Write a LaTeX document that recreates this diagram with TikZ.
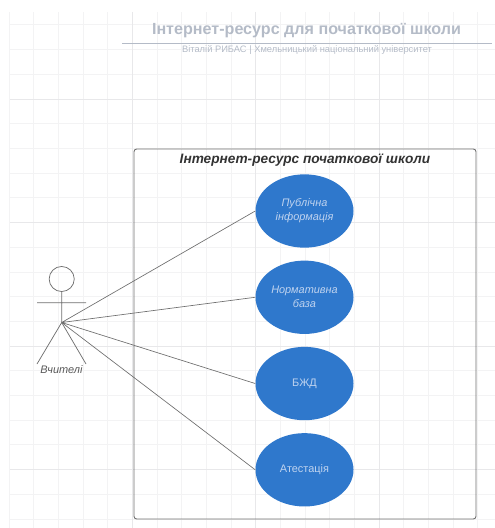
\documentclass[tikz,border=0pt]{standalone}
\usepackage{xcolor}
\usepackage{fontspec}
\setmainfont{Liberation Sans}
\usetikzlibrary{
    shapes.geometric,
    positioning
}
\definecolor{gridminor}{HTML}{F3F3F4}
\definecolor{gridmajor}{HTML}{E8E8EA}
\definecolor{caseblue}{HTML}{2F78CC}
\definecolor{caselabel}{HTML}{BFD3EF}
\definecolor{titlegray}{HTML}{B4BBC7}
\definecolor{stickgray}{HTML}{6E6E6E}
\tikzset{
  usecase/.style = {
      draw=none,
      ellipse,
      fill=caseblue,
      text=caselabel,
      minimum width=73.5pt,
      minimum height=55pt,
      inner sep=0pt,
      align=center,
      font=\fontsize{8.2}{10.5}\selectfont
  },
  slanted/.style = {
      usecase,
      font=\fontsize{8.2}{10.5}\selectfont\itshape
  },
  link/.style = {
      draw=stickgray,
      line width=0.5pt
  },
  stick/.style = {
      draw=stickgray,
      line width=0.55pt
  },
  heading/.style = {
      text=titlegray,
      inner sep=0pt
  }
}

\begin{document}
\begin{tikzpicture}[x=0.75pt, y=-0.75pt, node distance=64.7pt]
    \useasboundingbox (0,0) rectangle (495,528);
    % Grid
    \foreach \k in {0,...,19} {
        \draw[gridminor, line width=0.75pt] ({9+\k*24.67},12) -- ({9+\k*24.67},528);
    }
    \foreach \k in {0,...,20} {
        \draw[gridminor, line width=0.75pt] (10,{25+\k*24.7}) -- (495,{25+\k*24.7});
    }
    \foreach \k in {1,2,...,3} {
        \draw[gridmajor, line width=0.75pt] ({9+\k*123.35},12) -- ({9+\k*123.35},528);
    }
    \foreach \k in {0,...,3} {
        \draw[gridmajor, line width=0.75pt] (10,{99+\k*123.6}) -- (495,{99+\k*123.6});
    }
    % Title
    \node[heading, font=\fontsize{12.08}{15}\selectfont\bfseries] (title) at (306.5,31) {Інтернет-ресурс для початкової школи};
    \coordinate (ruleleft) at (122,43.5);
    \coordinate (ruleright) at (492,43.5);
    \draw[titlegray, line width=0.8pt] (ruleleft) -- (ruleright);
    \node[heading, font=\fontsize{7}{9}\selectfont] (subtitle) at (307,50.5) {Віталій РИБАС | Хмельницький національний університет};
    % Boundary
    \node[draw=stickgray, line width=0.7pt, rounded corners=2pt, fill=none, minimum width=256.5pt, minimum height=277.5pt, inner sep=0pt] (system) at (305,334) {};
    \node[below=4pt of system.north, inner sep=0pt, text=black!80, font=\fontsize{10.25}{13}\selectfont\bfseries\itshape] (systemname) {Інтернет-ресурс початкової школи};
    % Nodes
    \node[slanted] (info) at (304.5,211) {Публічна\\інформація};
    \node[slanted, below of=info] (base) {Нормативна\\база};
    \node[usecase, below of=base] (safety) {БЖД};
    \node[usecase, below of=safety] (attest) {Атестація};
    % Actor
    \node[draw=stickgray, line width=0.55pt, circle, minimum size=18.8pt, inner sep=0pt] (head) at (61.7,279) {};
    \coordinate (waist) at (61.7,322.5);
    \coordinate (armleft) at (37,302.7);
    \coordinate (armright) at (86,302.7);
    \coordinate (footleft) at (37,364);
    \coordinate (footright) at (86,364);
    \node[inner sep=0pt, text=black!65, font=\fontsize{8.2}{10}\selectfont\itshape] (teacher) at (61.5,370) {Вчителі};
    % Edges
    \path[stick]
    (head) -- (waist)
    (armleft) -- (armright)
    (waist) -- (footleft)
    (waist) -- (footright);
    \path[link]
    (waist) -- (info.west)
    (waist) -- (base.west)
    (waist) -- (safety.west)
    (waist) -- (attest.west);
\end{tikzpicture}
\end{document}
